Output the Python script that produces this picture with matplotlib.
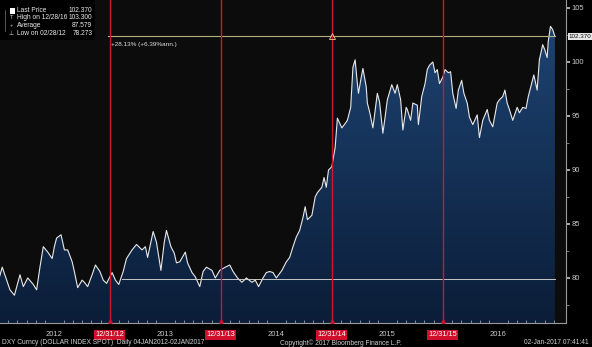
import numpy as np
from matplotlib import pyplot as plt
from matplotlib.colors import LinearSegmentedColormap

plt.rcParams['font.family'] = ['Liberation Sans', 'DejaVu Sans']

# DXY index (decimal year, level)
years = [2012.00, 2012.03, 2012.07, 2012.10, 2012.14, 2012.19, 2012.22, 2012.26, 2012.31, 2012.34,
         2012.37, 2012.40, 2012.44, 2012.48, 2012.50, 2012.52, 2012.56, 2012.59, 2012.62, 2012.66,
         2012.68, 2012.71, 2012.75, 2012.77, 2012.80, 2012.84, 2012.87, 2012.91, 2012.94, 2012.97,
         2013.02, 2013.05, 2013.08, 2013.12, 2013.15, 2013.20, 2013.24, 2013.29, 2013.32, 2013.34,
         2013.39, 2013.42, 2013.46, 2013.49, 2013.51, 2013.55, 2013.58, 2013.60, 2013.63, 2013.68,
         2013.70, 2013.74, 2013.77, 2013.81, 2013.84, 2013.87, 2013.92, 2013.95, 2013.99, 2014.04,
         2014.08, 2014.11, 2014.15, 2014.19, 2014.23, 2014.28, 2014.31, 2014.34, 2014.38, 2014.41,
         2014.44, 2014.47, 2014.50, 2014.55, 2014.59, 2014.62, 2014.65, 2014.68, 2014.71, 2014.74,
         2014.76, 2014.78, 2014.82, 2014.85, 2014.87, 2014.91, 2014.93, 2014.95, 2014.97, 2015.00,
         2015.03, 2015.05, 2015.09, 2015.12, 2015.14, 2015.17, 2015.19, 2015.21, 2015.23, 2015.24,
         2015.26, 2015.28, 2015.31, 2015.32, 2015.34, 2015.37, 2015.41, 2015.43, 2015.46, 2015.48,
         2015.50, 2015.54, 2015.57, 2015.59, 2015.62, 2015.64, 2015.67, 2015.68, 2015.71, 2015.73,
         2015.77, 2015.78, 2015.81, 2015.84, 2015.86, 2015.88, 2015.91, 2015.93, 2015.95, 2015.97,
         2016.00, 2016.02, 2016.05, 2016.07, 2016.09, 2016.12, 2016.14, 2016.17, 2016.19, 2016.22,
         2016.24, 2016.27, 2016.31, 2016.33, 2016.36, 2016.40, 2016.42, 2016.45, 2016.49, 2016.51,
         2016.54, 2016.56, 2016.58, 2016.60, 2016.63, 2016.67, 2016.69, 2016.72, 2016.75, 2016.77,
         2016.80, 2016.82, 2016.85, 2016.87, 2016.90, 2016.92, 2016.94, 2016.95, 2016.97, 2016.99,
         2017.01]
price = [79.9, 81.0, 79.8, 78.9, 78.4, 80.3, 79.2, 80.0, 79.4, 78.9,
         81.0, 82.9, 82.4, 81.8, 82.9, 83.7, 84.0, 82.6, 82.6, 81.5,
         80.6, 79.1, 79.8, 79.6, 79.2, 80.3, 81.2, 80.6, 79.8, 79.5,
         80.5, 79.8, 79.4, 80.6, 81.8, 82.6, 83.1, 82.6, 82.9, 81.9,
         84.3, 83.3, 80.7, 83.3, 84.4, 82.9, 82.3, 81.4, 81.5, 82.4,
         81.4, 80.5, 80.1, 79.2, 80.6, 81.0, 80.7, 80.0, 80.7, 81.0,
         81.2, 80.6, 80.0, 79.6, 80.0, 79.6, 79.8, 79.2, 80.0, 80.5,
         80.6, 80.5, 80.0, 80.7, 81.5, 81.9, 82.9, 83.8, 84.4, 85.6,
         86.6, 85.4, 85.8, 87.5, 87.9, 88.4, 89.3, 88.4, 90.0, 90.3,
         92.1, 94.8, 93.9, 94.3, 94.6, 95.8, 99.5, 100.2, 98.0, 97.1,
         98.3, 99.4, 97.7, 96.2, 95.4, 93.9, 97.1, 96.3, 93.4, 94.9,
         96.5, 97.9, 97.1, 97.9, 96.5, 93.7, 95.8, 95.6, 94.6, 96.2,
         96.0, 94.2, 96.8, 98.0, 99.3, 99.7, 100.0, 99.0, 99.3, 98.0,
         98.6, 99.3, 99.0, 99.1, 97.1, 95.7, 97.4, 98.3, 97.1, 96.2,
         94.9, 94.2, 95.1, 93.0, 94.6, 95.6, 94.6, 94.0, 96.2, 96.5,
         96.8, 97.4, 96.2, 95.6, 94.6, 95.8, 95.3, 95.8, 95.7, 96.8,
         98.0, 98.8, 97.4, 100.2, 101.6, 101.1, 100.4, 101.9, 103.3, 103.0,
         102.37]

last_price = 102.370
start_price = 79.9
year_labels = ['2012', '2013', '2014', '2015', '2016']
year_pos = [2012.5, 2013.5, 2014.5, 2015.5, 2016.5]
marker_dates = [2013.0, 2014.0, 2015.0, 2016.0]
marker_labels = ['12/31/12', '12/31/13', '12/31/14', '12/31/15']
legend_rows = [('Last Price', '102.370'), ('High on 12/28/16', '103.300'),
               ('Average', '87.579'), ('Low on 02/28/12', '78.273')]

fig = plt.figure(figsize=(5.92, 3.47), dpi=100, facecolor='black')
ax = fig.add_axes([0, 24 / 347, 566 / 592, 323 / 347])
ax.set_facecolor('#0c0c0c')
ymin, ymax = 75.83, 105.74
xmin, xmax = 2012.01, 2017.11
ax.set_xlim(xmin, xmax)
ax.set_ylim(ymin, ymax)

# gradient area under the line
fill = ax.fill_between(years, price, ymin, facecolor='none', edgecolor='none')
grad = np.linspace(0, 1, 256).reshape(-1, 1)
cmap = LinearSegmentedColormap.from_list('navy', ['#0b1d38', '#1e4473'])
im = ax.imshow(grad, extent=[xmin, xmax, ymin, 104], origin='lower', cmap=cmap,
               aspect='auto', zorder=1)
im.set_clip_path(fill.get_paths()[0], transform=ax.transData)
ax.plot(years, price, color='#e8e8e8', lw=0.8, zorder=3)

# reference lines
ax.plot([2013.11, years[-1]], [start_price, start_price], color='#c8c8c8', lw=0.7, zorder=4)
ax.plot([2012.98, years[-1]], [last_price, last_price], color='#b5b083', lw=0.8, zorder=4)
ax.plot([2015.0], [last_price], marker='^', ms=4, mfc='none', mec='#d8b080', mew=0.7, zorder=5)
ax.text(2013.01, 101.6, '+28.13% (+6.39%ann.)', color='#e0e0e0', fontsize=4.6, va='center', zorder=5)
for d in marker_dates:
    ax.axvline(d, color='#d0152e', lw=1.0, zorder=4)

# axes styling
for s in ['left', 'top']:
    ax.spines[s].set_visible(False)
ax.spines['right'].set_color('#9a9a9a')
ax.spines['bottom'].set_color('#9a9a9a')
ax.spines['right'].set_linewidth(0.8)
ax.spines['bottom'].set_linewidth(0.8)
ax.yaxis.tick_right()
ax.set_yticks([80, 85, 90, 95, 100, 105])
ax.set_yticks(np.arange(77.5, 105, 5), minor=True)
ax.tick_params(axis='y', which='major', colors='#c8c8c8', labelsize=5.5, length=3, width=1.2, pad=1)
ax.tick_params(axis='y', which='minor', colors='#8a8a8a', length=2, width=0.6)
ax.set_xticks(year_pos)
ax.set_xticklabels(year_labels)
ax.set_xticks(np.arange(2012 + 1 / 12, 2017.05, 1 / 12), minor=True)
ax.tick_params(axis='x', which='major', colors='#c8c8c8', labelsize=5.5, length=0, pad=6)
ax.tick_params(axis='x', which='minor', colors='#9a9a9a', length=2, width=0.6, direction='in')

for d, lab in zip(marker_dates, marker_labels):
    ax.text(d, -0.037, lab, transform=ax.get_xaxis_transform(), ha='center', va='center',
            fontsize=5.3, color='white',
            bbox=dict(boxstyle='square,pad=0.15', fc='#d0102a', ec='none'))
    ax.plot([d], [0.006], marker='^', ms=2.5, color='#d0102a', transform=ax.get_xaxis_transform(),
            clip_on=False, zorder=6)

# last price tag on the axis
ax.text(1.004, (last_price - ymin) / (ymax - ymin), '102.370', transform=ax.transAxes,
        fontsize=4.5, color='#111111', va='center', ha='left',
        bbox=dict(boxstyle='square,pad=0.12', fc='#e6e6e6', ec='none'))

# legend box
ax.add_patch(plt.Rectangle((0, 0.875), 0.168, 0.125, transform=ax.transAxes,
                           fc='black', ec='none', zorder=7))
ax.add_patch(plt.Rectangle((0.018, 0.958), 0.009, 0.018, transform=ax.transAxes,
                           fc='white', ec='none', zorder=8))
symbols = ['', 'T', '+', '\u22a5']
for i, ((name, val), sym) in enumerate(zip(legend_rows, symbols)):
    yy = 0.968 - i * 0.0235
    ax.text(0.03, yy, name, transform=ax.transAxes, fontsize=4.8, color='#e8e8e8',
            va='center', zorder=8)
    ax.text(0.163, yy, val, transform=ax.transAxes, fontsize=4.8, color='#e8e8e8',
            va='center', ha='right', zorder=8)
    if sym:
        ax.text(0.02, yy, sym, transform=ax.transAxes, fontsize=4.2, color='#cccccc',
                va='center', ha='center', zorder=8)
ax.plot([0.009, 0.009], [0.905, 0.97], transform=ax.transAxes, color='#777777', lw=0.5, zorder=8)

# footer
fy = 4 / 347
fig.text(0.003, fy, 'DXY Curncy (DOLLAR INDEX SPOT)  Daily 04JAN2012-02JAN2017',
         fontsize=4.8, color='#d0d0d0', va='center')
fig.text(0.575, fy, 'Copyright\u00a9 2017 Bloomberg Finance L.P.', fontsize=4.8,
         color='#d0d0d0', va='center', ha='center')
fig.text(0.994, fy, '02-Jan-2017 07:41:41', fontsize=4.8, color='#d0d0d0',
         va='center', ha='right')

fig.savefig('out.png', dpi=100, facecolor='black')
